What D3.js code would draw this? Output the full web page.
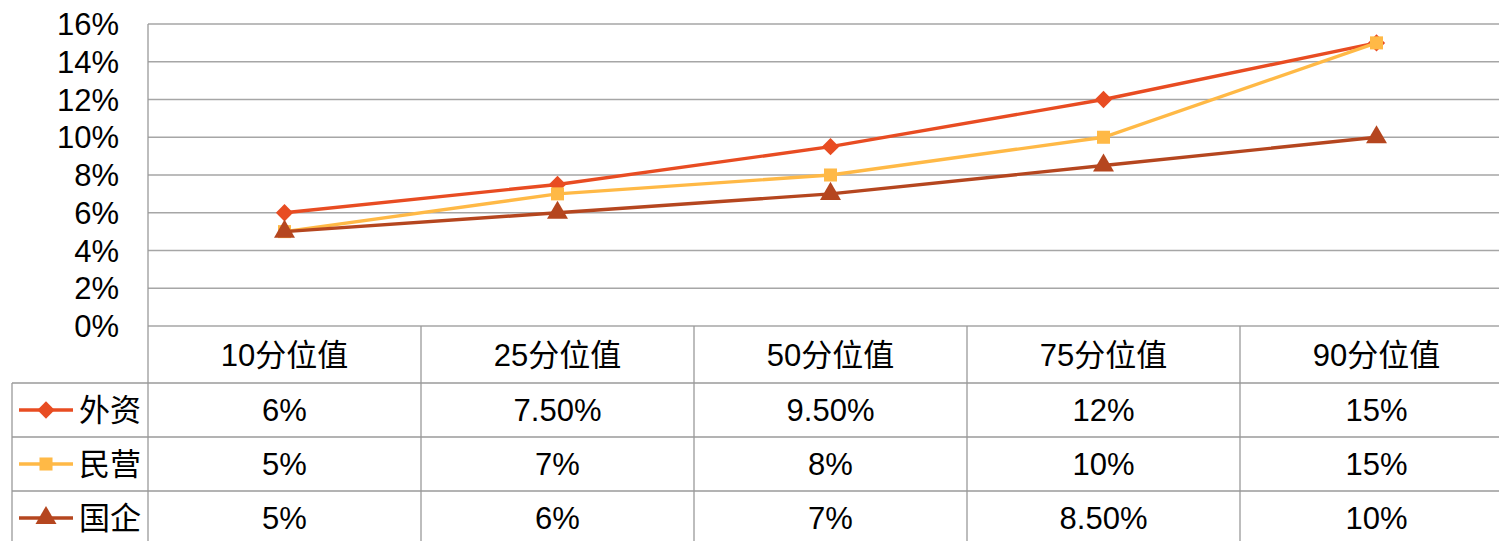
<!DOCTYPE html>
<html lang="zh">
<head>
    <meta charset="UTF-8">
    <title>分位值</title>
    <script src="https://cdnjs.cloudflare.com/ajax/libs/d3/7.8.5/d3.min.js"></script>
    <style>
        body { margin: 0; background: #fff; overflow: hidden; }
        svg text { font-family: "Liberation Sans", Arial, "Noto Sans CJK SC", sans-serif; fill: #000; }
        .grid line { stroke: #a6a6a6; stroke-width: 1.3; }
        .cell { stroke: #9a9a9a; stroke-width: 1.3; fill: none; }
    </style>
</head>
<body>
<script type="text/javascript">
    const categories = ["10分位值", "25分位值", "50分位值", "75分位值", "90分位值"];
    const seriesNames = ["外资", "民营", "国企"];
    const waizi = [6, 7.5, 9.5, 12, 15];
    const minying = [5, 7, 8, 10, 15];
    const guoqi = [5, 6, 7, 8.5, 10];
    const tableText = [
        ["6%", "7.50%", "9.50%", "12%", "15%"],
        ["5%", "7%", "8%", "10%", "15%"],
        ["5%", "6%", "7%", "8.50%", "10%"]
    ];
    const yTicks = [0, 2, 4, 6, 8, 10, 12, 14, 16];
    const colors = ["#e84c22", "#ffb946", "#b5461f"];
    const symbols = [d3.symbolDiamond2, d3.symbolSquare, d3.symbolTriangle];
    const symSize = [190, 170, 190];

    const width = 1499, height = 541;
    const plotL = 148, plotR = 1513, plotT = 24, plotB = 326;
    const tableLeft = 12;
    const rowH = [57, 54, 54, 54];
    const fs = 31;

    const svg = d3.select("body").append("svg")
        .attr("width", width).attr("height", height);

    const x = d3.scaleBand().domain(categories).range([plotL, plotR]);
    const y = d3.scaleLinear().domain([0, 16]).range([plotB, plotT]);

    // gridlines
    svg.append("g").attr("class", "grid")
        .selectAll("line").data(yTicks).enter().append("line")
        .attr("x1", plotL).attr("x2", plotR)
        .attr("y1", d => y(d)).attr("y2", d => y(d));

    svg.append("line").attr("class", "cell")
        .attr("x1", plotL).attr("x2", plotL).attr("y1", plotT).attr("y2", plotB);

    // y axis labels
    svg.append("g").selectAll("text").data(yTicks).enter().append("text")
        .attr("x", 119).attr("y", d => y(d) + 11)
        .attr("text-anchor", "end").attr("font-size", fs + "px")
        .text(d => d + "%");

    // lines
    const data = [waizi, minying, guoqi];
    const line = d3.line()
        .x((d, i) => x(categories[i]) + x.bandwidth() / 2)
        .y(d => y(d));

    data.forEach((vals, s) => {
        svg.append("path").datum(vals)
            .attr("d", line).attr("fill", "none")
            .attr("stroke", colors[s]).attr("stroke-width", 3.4);
        svg.append("g").selectAll("path").data(vals).enter().append("path")
            .attr("transform", (d, i) => "translate(" + (x(categories[i]) + x.bandwidth() / 2) + "," + y(d) + ")")
            .attr("d", d3.symbol().type(symbols[s]).size(symSize[s]))
            .attr("fill", colors[s]);
    });

    // data table
    const rowY = [plotB];
    rowH.forEach(h => rowY.push(rowY[rowY.length - 1] + h));

    const tbl = svg.append("g");
    // horizontal lines
    [1, 2, 3].forEach(r => {
        tbl.append("line").attr("class", "cell")
            .attr("x1", tableLeft).attr("x2", plotR)
            .attr("y1", rowY[r]).attr("y2", rowY[r]);
    });
    // vertical lines
    tbl.append("line").attr("class", "cell")
        .attr("x1", tableLeft).attr("x2", tableLeft).attr("y1", rowY[1]).attr("y2", height + 5);
    categories.forEach(c => {
        tbl.append("line").attr("class", "cell")
            .attr("x1", x(c)).attr("x2", x(c)).attr("y1", plotB).attr("y2", height + 5);
    });

    // header
    tbl.selectAll("text.head").data(categories).enter().append("text")
        .attr("class", "head")
        .attr("x", d => x(d) + x.bandwidth() / 2)
        .attr("y", (rowY[0] + rowY[1]) / 2 + 11)
        .attr("text-anchor", "middle").attr("font-size", fs + "px")
        .text(d => d);

    // rows
    tableText.forEach((row, r) => {
        const cy = (rowY[r + 1] + rowY[r + 2]) / 2;
        tbl.append("g").selectAll("text").data(row).enter().append("text")
            .attr("x", (d, i) => x(categories[i]) + x.bandwidth() / 2)
            .attr("y", cy + 11)
            .attr("text-anchor", "middle").attr("font-size", fs + "px")
            .text(d => d);
        // legend key
        tbl.append("line")
            .attr("x1", 19).attr("x2", 73).attr("y1", cy).attr("y2", cy)
            .attr("stroke", colors[r]).attr("stroke-width", 3.4);
        tbl.append("path")
            .attr("transform", "translate(46," + cy + ")")
            .attr("d", d3.symbol().type(symbols[r]).size(symSize[r]))
            .attr("fill", colors[r]);
        tbl.append("text")
            .attr("x", 79).attr("y", cy + 11)
            .attr("font-size", fs + "px")
            .text(seriesNames[r]);
    });
</script>
</body>
</html>
